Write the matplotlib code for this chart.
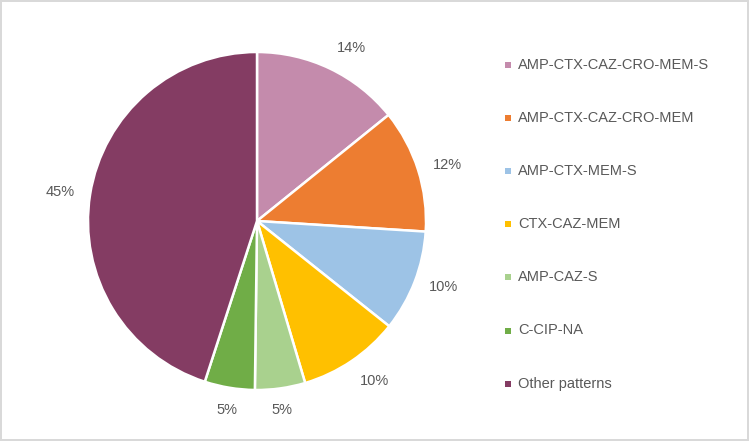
import matplotlib

matplotlib.use("Agg")
import matplotlib.pyplot as plt
import numpy as np
from matplotlib.patches import Rectangle

PATTERNS = [
    "AMP-CTX-CAZ-CRO-MEM-S",
    "AMP-CTX-CAZ-CRO-MEM",
    "AMP-CTX-MEM-S",
    "CTX-CAZ-MEM",
    "AMP-CAZ-S",
    "C-CIP-NA",
    "Other patterns",
]
SHARES = [14.2, 11.8, 9.7, 9.7, 4.8, 4.8, 45.0]
COLORS = ["#c48bac", "#ed7d31", "#9dc3e6", "#ffc000", "#a9d18e", "#70ad47", "#843c63"]
TEXT_COLOR = "#595959"

plt.rcParams["font.family"] = ["Liberation Sans", "DejaVu Sans"]

W, H = 749, 441
fig = plt.figure(figsize=(W / 100, H / 100), dpi=100, edgecolor="#d9d9d9", linewidth=1.5)

# pie box in pixels: centre (257, 221), radius 169
cx, cy, r = 257, 221, 169
ax = fig.add_axes([(cx - r) / W, (H - cy - r) / H, 2 * r / W, 2 * r / H])
wedges, texts, autotexts = ax.pie(
    SHARES,
    colors=COLORS,
    startangle=90,
    counterclock=False,
    autopct="%1.0f%%",
    wedgeprops=dict(edgecolor="white", linewidth=1.8),
    textprops=dict(color=TEXT_COLOR, fontsize=10.5),
)

# "outside end" labels: anchor just past the rim, aligned away from the pie
for wedge, txt in zip(wedges, autotexts):
    mid = np.deg2rad((wedge.theta1 + wedge.theta2) / 2)
    ux, uy = np.cos(mid), np.sin(mid)
    txt.set_position((1.09 * ux, 1.09 * uy))
    txt.set_ha("left" if ux > 0.3 else "right" if ux < -0.3 else "center")
    txt.set_va("bottom" if uy > 0.5 else "top" if uy < -0.5 else "center")

ax.set_xlim(-1, 1)
ax.set_ylim(-1, 1)
ax.set_aspect("auto")
ax.axis("off")

# legend, drawn row by row
top, step = 65, 53.1
for i, (label, color) in enumerate(zip(PATTERNS, COLORS)):
    y = H - (top + i * step)
    fig.patches.append(Rectangle((505 / W, (y - 3) / H), 6 / W, 6 / H, transform=fig.transFigure,
                                 facecolor=color, edgecolor="none"))
    fig.text(518 / W, y / H, label, color=TEXT_COLOR, fontsize=10.5, va="center", ha="left")

fig.savefig("out.png", dpi=100, edgecolor=fig.get_edgecolor(), facecolor="white")
